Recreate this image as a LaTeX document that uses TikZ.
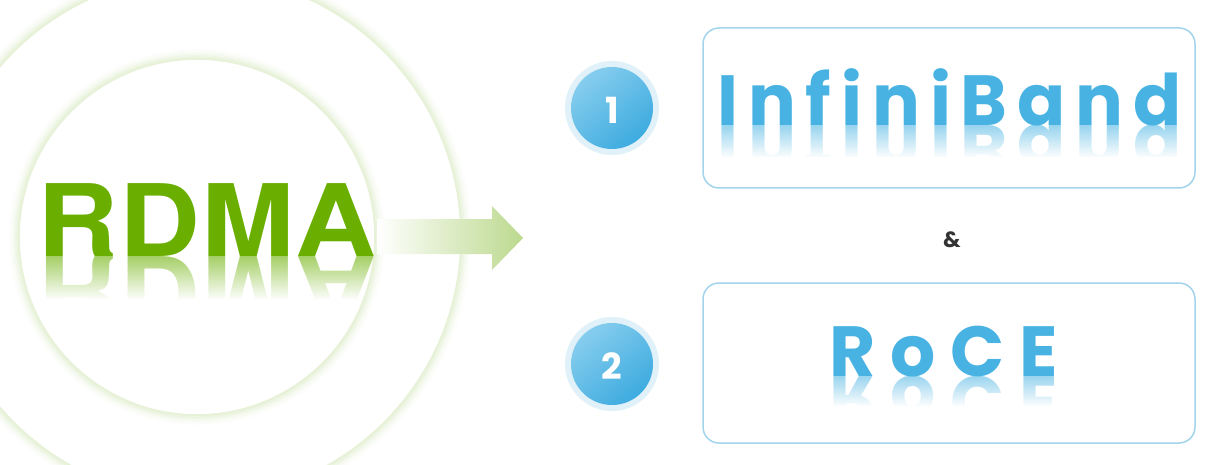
\documentclass[tikz,border=0pt]{standalone}
\usepackage{fontspec}
\usepackage{graphicx}
\usetikzlibrary{fadings}
\newfontfamily\rdfont{texgyreheros-bold}[Extension=.otf,LetterSpace=1]
\newfontfamily\ibfont{Poppins Bold}[Ligatures=NoCommon,LetterSpace=14]
\newfontfamily\rofont{Poppins Bold}[Ligatures=NoCommon,LetterSpace=21]
\newfontfamily\popfont{Poppins Bold}
\definecolor{rdgreen}{HTML}{6AAF00}
\definecolor{ringgreen}{HTML}{D6E9BC}
\definecolor{arrgreen}{HTML}{BCD98E}
\definecolor{ibblue}{HTML}{48B3E3}
\definecolor{boxline}{HTML}{A2D5EC}
\definecolor{numlight}{HTML}{86CDEE}
\definecolor{numdark}{HTML}{3DABDF}
\definecolor{numring}{HTML}{E0F1FA}
\definecolor{ampgray}{HTML}{333333}
\tikzfading[name=reflfade, top color=transparent!100, bottom color=transparent!0]
\tikzset{
  rdtext/.style={anchor=base west, inner sep=0pt, text=rdgreen, font=\rdfont\fontsize{100}{100}\selectfont},
  ibtext/.style={anchor=base west, inner sep=0pt, text=ibblue, font=\ibfont\fontsize{71}{71}\selectfont},
  rotext/.style={anchor=base west, inner sep=0pt, text=ibblue, font=\rofont\fontsize{71}{71}\selectfont},
  numouter/.style={circle, fill=numring, minimum size=94pt, inner sep=0pt},
  numtext/.style={text=white, font=\popfont\fontsize{36}{36}\selectfont, inner sep=0pt},
  techbox/.style={draw=boxline, line width=1.5pt, rounded corners=16pt, minimum width=492pt, minimum height=160pt, fill=white},
  amptext/.style={text=ampgray, font=\popfont\fontsize{22}{22}\selectfont}
}
\begin{document}
\begin{tikzpicture}[x=1pt,y=-1pt]
\useasboundingbox[fill=white] (0,0) rectangle (1225,465);
% ---------- RDMA reflection ----------
\begin{scope}
  \clip (30,256) rectangle (390,310);
  \node[rdtext, opacity=0.6] (rdr) at (37,256) {\scalebox{1.12}[-1]{RDMA}};
  \fill[white, path fading=reflfade] (30,256) rectangle (390,300);
  \fill[white] (30,299) rectangle (390,311);
\end{scope}
% ---------- rings around RDMA ----------
\coordinate (cin) at (197,237);
\coordinate (cout) at (199,237);
\foreach \d/\o in {0/0.55,1.5/0.45,3/0.33,4.5/0.22,6/0.14,7.5/0.08,9/0.04} {
  \draw[ringgreen, line width=1.7pt, opacity=\o] (cin) circle (178pt+\d pt);
  \draw[ringgreen, line width=1.7pt, opacity=\o] (cout) circle (262pt+\d pt);
}
% ---------- RDMA text ----------
\node[rdtext] (rdma) at (37,256) {\scalebox{1.12}[1]{RDMA}};
% ---------- arrow ----------
\coordinate (atail) at (377,237);
\coordinate (atip) at (523,238);
\shade[left color=white, right color=arrgreen]
  (377,219) -- (492,219) -- (492,206) -- (atip) -- (492,270) -- (492,254) -- (377,254) -- cycle;
% ---------- boxes ----------
\node[techbox] (b1) at (949,108) {};
\node[techbox] (b2) at (949,363) {};
% InfiniBand
\begin{scope}
  \clip (710,126) rectangle (1190,166);
  \node[ibtext, opacity=0.55] (ibr) at (717,126) {\scalebox{1}[-1]{InfiniBand}};
  \fill[white, path fading=reflfade] (710,126) rectangle (1190,158);
  \fill[white] (710,157) rectangle (1190,167);
\end{scope}
\node[ibtext] (ib) at (717,126) {InfiniBand};
% RoCE
\begin{scope}
  \clip (800,376) rectangle (1100,416);
  \node[rotext, opacity=0.55] (rocer) at (829,376) {\scalebox{1}[-1]{RoCE}};
  \fill[white, path fading=reflfade] (800,376) rectangle (1100,407);
  \fill[white] (800,406) rectangle (1100,417);
\end{scope}
\node[rotext] (roce) at (829,376) {RoCE};
% ---------- number circles ----------
\node[numouter] (n1o) at (612,108) {};
\shade[top color=numlight, bottom color=numdark, shading angle=40] (n1o.center) circle (41pt);
\node[numtext] (n1) at (612,110) {1};
\node[numouter] (n2o) at (612,364) {};
\shade[top color=numlight, bottom color=numdark, shading angle=40] (n2o.center) circle (41pt);
\node[numtext] (n2) at (612,366) {2};
% ---------- ampersand ----------
\node[amptext] (amp) at (952,240) {\&};
\end{tikzpicture}
\end{document}
